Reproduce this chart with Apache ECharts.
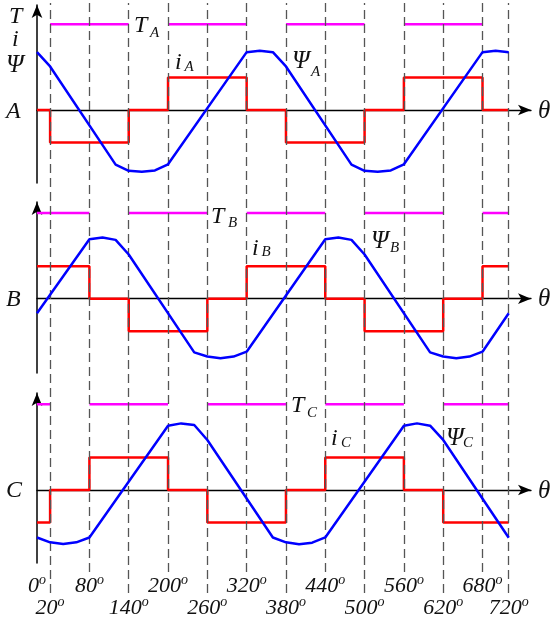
<!DOCTYPE html>
<html><head><meta charset="utf-8">
<script src="https://cdn.jsdelivr.net/npm/echarts@6/dist/echarts.min.js"></script>
<style>html,body{margin:0;padding:0;background:#fff}#c{width:554px;height:626px}</style>
</head><body><div id="c"></div>
<script>
// ---- data (angle in degrees, values in normalised units: current = ±1) ----
const ticksTopRow = [0, 80, 200, 320, 440, 560, 680];
const ticksBottomRow = [20, 140, 260, 380, 500, 620, 720];

const psiA_deg = [0,20,120,140,160,180,200,320,340,360,380,480,500,520,540,560,680,700,720];
const psiA_val = [1.78,1.34,-1.68,-1.87,-1.9,-1.86,-1.67,1.78,1.82,1.78,1.34,-1.68,-1.87,-1.9,-1.86,-1.67,1.78,1.82,1.78];
const psiB_deg = [0,80,100,120,140,240,260,280,300,320,440,460,480,500,600,620,640,660,680,720];
const psiB_val = [-0.45,1.83,1.88,1.81,1.36,-1.65,-1.78,-1.83,-1.78,-1.63,1.83,1.88,1.81,1.36,-1.65,-1.78,-1.83,-1.78,-1.63,-0.45];
const psiC_deg = [0,20,40,60,80,200,220,240,260,360,380,400,420,440,560,580,600,620,720];
const psiC_val = [-1.46,-1.61,-1.66,-1.61,-1.46,1.98,2.05,2.0,1.54,-1.46,-1.61,-1.67,-1.62,-1.46,1.98,2.05,1.98,1.54,-1.47];

const iA_deg = [0,20,140,200,320,380,500,560,680,720];
const iA_val = [0,-1,0,1,0,-1,0,1,0,0];
const iB_deg = [0,80,140,260,320,440,500,620,680,720];
const iB_val = [1,0,-1,0,1,0,-1,0,1,1];
const iC_deg = [0,20,80,200,260,380,440,560,620,720];
const iC_val = [-1,0,1,0,-1,0,1,0,-1,-1];

const tA_on = [[20,140],[200,320],[380,500],[560,680]];
const tB_on = [[0,80],[140,260],[320,440],[500,620],[680,720]];
const tC_on = [[0,20],[80,200],[260,380],[440,560],[620,720]];
const tLevel = 2.64;

// ---- helpers ----
const zip = (a, b) => a.map((x, i) => [x, b[i]]);
const segs = (iv, lv) => { const d = []; iv.forEach(([s, e]) => { d.push([s, lv], [e, lv], [e, null]); }); return d; };

const FONT = 'Liberation Serif';
const XMAX = 754;
const gridL = 37, gridW = 494;
const panels = [
  {top: 5,   height: 178, min: -2.246, max: 3.231, psi: zip(psiA_deg, psiA_val), i: zip(iA_deg, iA_val), t: segs(tA_on, tLevel)},
  {top: 202, height: 171, min: -2.286, max: 2.975, psi: zip(psiB_deg, psiB_val), i: zip(iB_deg, iB_val), t: segs(tB_on, tLevel)},
  {top: 393, height: 170, min: -2.246, max: 2.985, psi: zip(psiC_deg, psiC_val), i: zip(iC_deg, iC_val), t: segs(tC_on, tLevel)}
];

const grid = [], xAxis = [], yAxis = [], series = [];
const dashStyle = {type: [9, 5], color: '#555', width: 1.3};
const richLab = {
  n: {fontFamily: FONT, fontStyle: 'italic', fontSize: 22, color: '#111'},
  s: {fontFamily: FONT, fontStyle: 'italic', fontSize: 14, color: '#111', padding: [0,0,13,0]}
};
// overlay grids for dashed guide lines and angle labels
[[ticksTopRow, 572, 1], [ticksBottomRow, 593, 2]].forEach(([ticks, h, margin], k) => {
  grid.push({left: gridL, width: gridW, top: 3, height: h - 3});
  xAxis.push({type: 'value', gridIndex: k, min: 0, max: XMAX,
    axisLine: {show: false}, axisTick: {show: false}, splitLine: {show: false},
    axisLabel: {show: true, customValues: ticks, margin: margin, hideOverlap: false,
      formatter: v => '{n|' + v + '}{s|o}', rich: richLab}});
  yAxis.push({type: 'value', gridIndex: k, min: 0, max: 1, show: false});
  series.push({type: 'line', xAxisIndex: k, yAxisIndex: k, data: [], z: 1, silent: true,
    markLine: {silent: true, symbol: ['none', 'none'], label: {show: false}, lineStyle: dashStyle,
      data: ticks.filter(v => v > 0).map(v => ({xAxis: v}))}});
});

panels.forEach((p, j) => {
  const g = j + 2;
  grid.push({left: gridL, width: gridW, top: p.top, height: p.height});
  xAxis.push({type: 'value', gridIndex: g, min: 0, max: XMAX,
    axisLine: {show: true, onZero: true, symbol: ['none', 'arrow'], symbolSize: [8, 13], lineStyle: {color: '#000', width: 1.3}},
    axisTick: {show: false}, axisLabel: {show: false}, splitLine: {show: false}});
  yAxis.push({type: 'value', gridIndex: g, min: p.min, max: p.max,
    axisLine: {show: true, onZero: false, symbol: ['none', 'arrow'], symbolSize: [8, 13], lineStyle: {color: '#000', width: 1.5}},
    axisTick: {show: false}, axisLabel: {show: false}, splitLine: {show: false}});
  series.push({type: 'line', xAxisIndex: g, yAxisIndex: g, data: p.t, symbol: 'none', connectNulls: false,
    lineStyle: {color: '#ff00ff', width: 2.5}, z: 3});
  series.push({type: 'line', xAxisIndex: g, yAxisIndex: g, data: p.i, step: 'end', symbol: 'none',
    lineStyle: {color: '#ff0000', width: 2.5}, z: 4});
  series.push({type: 'line', xAxisIndex: g, yAxisIndex: g, data: p.psi, symbol: 'none',
    lineStyle: {color: '#0000ff', width: 2.5}, z: 5});
});

const txt = (x, y, s, size) => ({type: 'text', x: x, y: y, z: 10,
  style: {text: s, fontFamily: FONT, fontStyle: 'italic', fontSize: size, fill: '#111', align: 'left', verticalAlign: 'middle'}});
const graphic = [
  txt(9, 17, 'T', 24), txt(12, 40, 'i', 24), txt(6, 65, 'Ψ', 25),
  txt(6, 111.5, 'A', 24), txt(6, 299.5, 'B', 24), txt(6, 490.5, 'C', 24),
  txt(538, 111, 'θ', 25), txt(538, 299, 'θ', 25), txt(538, 491, 'θ', 25),
  txt(134, 25.5, 'T', 24), txt(150, 33, 'A', 15),
  txt(175, 62.5, 'i', 24), txt(184.5, 67.5, 'A', 15),
  txt(292, 61.5, 'Ψ', 25), txt(311, 72.5, 'A', 15),
  txt(211, 216.5, 'T', 24), txt(228, 223, 'B', 15),
  txt(252, 248.5, 'i', 24), txt(261.5, 252.5, 'B', 15),
  txt(371, 241.5, 'Ψ', 25), txt(390, 248.5, 'B', 15),
  txt(291, 406, 'T', 24), txt(307, 413, 'C', 15),
  txt(331, 438.5, 'i', 24), txt(341, 443, 'C', 15),
  txt(446, 438.5, 'Ψ', 25), txt(463, 443, 'C', 15)
];

const chart = echarts.init(document.getElementById('c'), null, {renderer: 'canvas'});
chart.setOption({animation: false, backgroundColor: '#fff', grid, xAxis, yAxis, series, graphic});
</script></body></html>
